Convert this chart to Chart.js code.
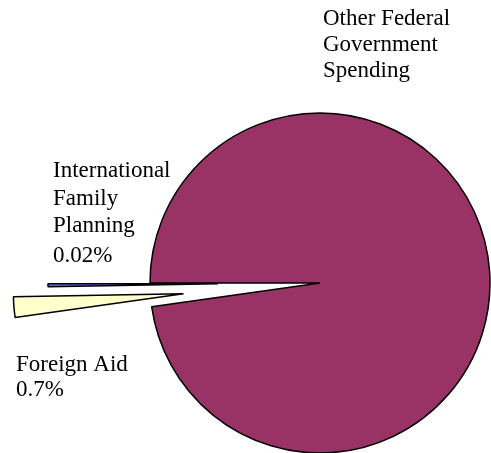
<!DOCTYPE html>
<html>
<head>
<meta charset="utf-8">
<script src="https://cdn.jsdelivr.net/npm/chart.js@4"></script>
<style>
  body { margin: 0; background: #fff; }
  canvas { display: block; }
</style>
</head>
<body>
<canvas id="spendingPie" width="491" height="453"></canvas>
<script>
"use strict";

// slices in drawing order (clockwise, starting just below the left horizontal)
const categories = ["Foreign Aid", "International Family Planning", "Other Federal Government Spending"];
// share of the circle as drawn in the picture (percent)
const sliceShares = [1.95, 0.28, 97.77];
// how far each slice is pulled out of the pie (px)
const explodeBy = [137, 102, 0];
const sliceColors = ["#ffffcc", "#6a6af2", "#993366"];

// text printed next to the pie
const labelLines = [
    ["Foreign Aid", "0.7%"],
    ["International", "Family", "Planning", "0.02%"],
    ["Other Federal", "Government", "Spending"]
];
const labelSpots = [
    { x: 16, y: [371, 396] },
    { x: 53, y: [177, 205, 232, 262] },
    { x: 323, y: [25, 51, 77] }
];

// pull slices out of the pie without growing them (chart.js offset also enlarges the arc)
const explodeSlices = {
    id: "explodeSlices",
    afterDatasetUpdate(chart, args) {
        const meta = chart.getDatasetMeta(args.index);
        meta.data.forEach((arc, i) => {
            const d = explodeBy[i] || 0;
            if (!d) return;
            const mid = (arc.startAngle + arc.endAngle) / 2;
            arc.x += Math.cos(mid) * d;
            arc.y += Math.sin(mid) * d;
        });
    }
};

const sideLabels = {
    id: "sideLabels",
    afterDraw(chart) {
        const ctx = chart.ctx;
        ctx.save();
        ctx.fillStyle = "#000";
        ctx.font = "23px 'Liberation Serif', 'Times New Roman', serif";
        ctx.textBaseline = "alphabetic";
        ctx.textAlign = "left";
        labelLines.forEach((lines, i) => {
            lines.forEach((txt, j) => {
                ctx.fillText(txt, labelSpots[i].x, labelSpots[i].y[j]);
            });
        });
        ctx.restore();
    }
};

const ctx = document.getElementById("spendingPie").getContext("2d");
new Chart(ctx, {
    type: "pie",
    data: {
        labels: categories,
        datasets: [{
            data: sliceShares,
            backgroundColor: sliceColors,
            borderColor: "#000",
            borderWidth: 1.5
        }]
    },
    options: {
        responsive: false,
        animation: false,
        rotation: 262,
        radius: 170,
        layout: { padding: { left: 149, right: 0, top: 113, bottom: 0 } },
        plugins: {
            legend: { display: false },
            tooltip: { enabled: false }
        }
    },
    plugins: [explodeSlices, sideLabels]
});
</script>
</body>
</html>
